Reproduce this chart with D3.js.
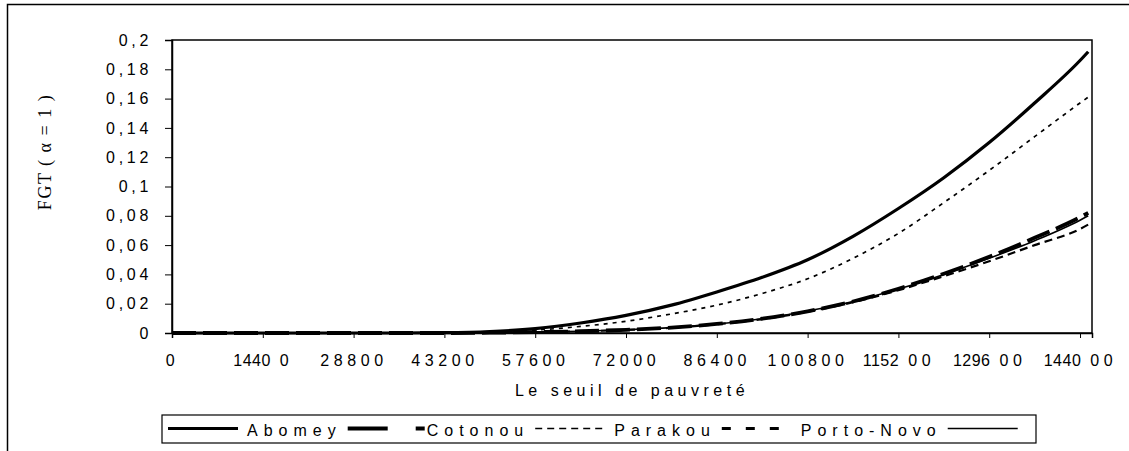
<!DOCTYPE html>
<html>
<head>
<meta charset="utf-8">
<script src="https://cdn.jsdelivr.net/npm/d3@7"></script>
<style>
  html, body { margin: 0; padding: 0; background: #fff; }
  svg { display: block; }
</style>
</head>
<body>
<svg id="chart" width="1129" height="451"></svg>
<script>
// ---- data ----
const thresholds = [0, 7200, 14400, 21600, 28800, 36000, 43200, 50400, 57600, 64800, 72000, 79200,
  86400, 93600, 100800, 108000, 115200, 122400, 129600, 136800, 144000, 145300];
const seriesNames = ["Abomey", "Cotonou", "Parakou", "Porto-Novo", ""];
const abomey   = [0, 0, 0, 0, 0, 0, 0.0002, 0.001, 0.003, 0.0068, 0.012, 0.019, 0.028, 0.038, 0.050, 0.066, 0.085, 0.106, 0.130, 0.157, 0.186, 0.192];
const cotonou  = [0, 0, 0, 0, 0, 0, 0, 0.0002, 0.0006, 0.0012, 0.0022, 0.0037, 0.0062, 0.0098, 0.0148, 0.0215, 0.0302, 0.0405, 0.052, 0.065, 0.079, 0.082];
const parakou  = [0, 0, 0, 0, 0, 0, 0, 0.0008, 0.002, 0.0045, 0.008, 0.013, 0.019, 0.027, 0.037, 0.051, 0.068, 0.089, 0.111, 0.134, 0.157, 0.161];
const portoNovo= [0, 0, 0, 0, 0, 0, 0, 0.0002, 0.0006, 0.0012, 0.0021, 0.0036, 0.006, 0.0095, 0.0145, 0.021, 0.0292, 0.0388, 0.049, 0.060, 0.071, 0.074];
const fifth    = [0, 0, 0, 0, 0, 0, 0, 0.0002, 0.0006, 0.0012, 0.0022, 0.0037, 0.0061, 0.0097, 0.015, 0.0215, 0.030, 0.040, 0.051, 0.063, 0.077, 0.080];
const xTickValues = [0, 14400, 28800, 43200, 57600, 72000, 86400, 100800, 115200, 129600, 144000];
const xTickLabels = ["0", "1440 0", "28800", "43200", "57600", "72000", "86400", "100800", "1152 00", "1296 00", "1440 00"];
const yTickValues = [0, 0.02, 0.04, 0.06, 0.08, 0.1, 0.12, 0.14, 0.16, 0.18, 0.2];
const yTickLabels = ["0", "0,02", "0,04", "0,06", "0,08", "0,1", "0,12", "0,14", "0,16", "0,18", "0,2"];
const yTitle = "FGT ( α = 1 )";
const xTitle = "Le seuil de pauvreté";

// ---- styles ----
const SANS = "'Liberation Sans', Arial, sans-serif";
const SERIF = "'Liberation Serif', 'Times New Roman', serif";
const seriesValues = [abomey, cotonou, parakou, portoNovo, fifth];
const strokeW  = [3.2, 3.8, 1.7, 2.2, 1.6];
const dashPlot = [null, "24,7", "4,5", "8,5", null];
const legW     = [3, 4, 1.6, 3, 1.5];
const legDash  = [null, "40,28", "7,5", "9,15", null];
const legLen   = [70, 77, 72, 70, 70];

const svg = d3.select("#chart");
const m = { left: 172, right: 1092, top: 40, bottom: 333 };

// outer frame
svg.append("path").attr("d", "M7.5,451 V4.5 H1129").attr("fill", "none").attr("stroke", "#000").attr("stroke-width", 1.5);

const x = d3.scaleLinear().domain([0, 145900]).range([m.left, m.right]);
const y = d3.scaleLinear().domain([0, 0.2]).range([m.bottom, m.top]);

// plot frame
svg.append("rect").attr("x", m.left).attr("y", m.top).attr("width", m.right - m.left).attr("height", m.bottom - m.top)
  .attr("fill", "none").attr("stroke", "#000").attr("stroke-width", 1.5);

// y axis
const yAxis = svg.append("g").attr("transform", `translate(${m.left},0)`)
  .call(d3.axisLeft(y).tickValues(yTickValues).tickSize(7).tickPadding(13)
    .tickFormat((d, i) => yTickLabels[i]));
yAxis.select(".domain").attr("stroke-width", 1.5);
yAxis.selectAll("text").style("font-size", "16px").style("letter-spacing", "3.7px")
  .style("font-family", SANS).attr("fill", "#000");

// x axis
const xAxis = svg.append("g").attr("transform", `translate(0,${m.bottom})`)
  .call(d3.axisBottom(x).tickValues(xTickValues).tickSize(5).tickPadding(8).tickFormat(""));
xAxis.select(".domain").attr("stroke-width", 1.5);
xAxis.selectAll(".tick").each(function (d, i) {
  const t = d3.select(this).append("text").attr("y", 33).attr("text-anchor", "middle")
    .style("font-size", "16px").style("font-family", SANS).attr("fill", "#000");
  const lab = xTickLabels[i];
  const sp = lab.indexOf(" ");
  if (sp < 0) {
    t.append("tspan").style("letter-spacing", "4.6px").text(lab);
  } else {
    t.append("tspan").style("letter-spacing", "0.5px").text(lab.slice(0, sp));
    t.append("tspan").style("letter-spacing", "4.6px").text(" " + lab.slice(sp + 1));
  }
});

// lines
const line = d3.line().x((d, i) => x(thresholds[i])).y(d => y(d)).curve(d3.curveMonotoneX);
const drawOrder = [4, 3, 1, 2, 0];
drawOrder.forEach(k => {
  svg.append("path").datum(seriesValues[k]).attr("d", line)
    .attr("fill", "none").attr("stroke", "#000").attr("stroke-width", strokeW[k])
    .attr("stroke-dasharray", dashPlot[k]);
});

// axis titles
svg.append("text").attr("transform", "translate(51,152) rotate(-90)").attr("text-anchor", "middle")
  .style("font-family", SERIF).style("font-size", "18px").style("letter-spacing", "1.5px").attr("fill", "#000")
  .text(yTitle);
svg.append("text").attr("x", 632).attr("y", 396).attr("text-anchor", "middle")
  .style("font-family", SANS).style("font-size", "16px").style("letter-spacing", "4.5px").attr("fill", "#000")
  .text(xTitle);

// legend
const leg = svg.append("g");
leg.append("rect").attr("x", 162).attr("y", 415).attr("width", 874).attr("height", 28)
  .attr("fill", "#fff").attr("stroke", "#000").attr("stroke-width", 1.2);
let cx = 168;
seriesNames.forEach((name, k) => {
  leg.append("line").attr("x1", cx).attr("x2", cx + legLen[k]).attr("y1", 428.5).attr("y2", 428.5)
    .attr("stroke", "#000").attr("stroke-width", legW[k]).attr("stroke-dasharray", legDash[k]);
  const t = leg.append("text").attr("x", cx + 79).attr("y", 435.5)
    .style("font-family", SANS).style("font-size", "16px").style("letter-spacing", "6px").attr("fill", "#000")
    .text(name);
  const w = name ? t.node().getComputedTextLength() - 6 : 0;
  cx = cx + 79 + w + 12;
});
</script>
</body>
</html>
